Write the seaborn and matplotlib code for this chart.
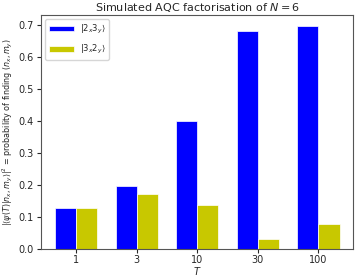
import matplotlib
matplotlib.use("Agg")
import matplotlib.pyplot as plt
import seaborn as sns
import pandas as pd

T_VALUES = ["1", "3", "10", "30", "100"]
STATE_23 = [0.128, 0.195, 0.400, 0.680, 0.695]
STATE_32 = [0.127, 0.172, 0.138, 0.030, 0.078]
LABELS = [r"$|2_x3_y\rangle$", r"$|3_x2_y\rangle$"]

df = pd.DataFrame({
    "T": T_VALUES * 2,
    "prob": STATE_23 + STATE_32,
    "state": [LABELS[0]] * 5 + [LABELS[1]] * 5,
})

sns.set_style("ticks")
plt.rcParams["font.family"] = ["DejaVu Sans"]

fig, ax = plt.subplots(figsize=(3.57, 2.78), dpi=100)
sns.barplot(
    data=df, x="T", y="prob", hue="state", order=T_VALUES, hue_order=LABELS,
    palette=["#0000ff", "#c8c800"], saturation=1, width=0.7, gap=0,
    edgecolor="white", linewidth=0.5, ax=ax,
)
ax.set_title(r"Simulated AQC factorisation of $N = 6$", fontsize=8, pad=3)
ax.set_xlabel(r"$T$", fontsize=7, labelpad=0)
ax.set_ylabel(r"$|\langle\psi(T)|n_x,m_y\rangle|^2$ = probability of finding $(n_x,m_y)$",
              fontsize=5.8, labelpad=3)
ax.tick_params(labelsize=7, length=3, pad=2)
ax.tick_params(axis="x", pad=1.5)
ax.set_ylim(0, 0.73)
ax.set_xlim(-0.58, 4.58)
ax.legend(loc="upper left", fontsize=6, handlelength=3, labelspacing=0.9)
for s in ax.spines.values():
    s.set_visible(True)
    s.set_color("#555555")

fig.subplots_adjust(left=0.115, right=0.99, top=0.945, bottom=0.105)
fig.savefig("out.png", dpi=100)
